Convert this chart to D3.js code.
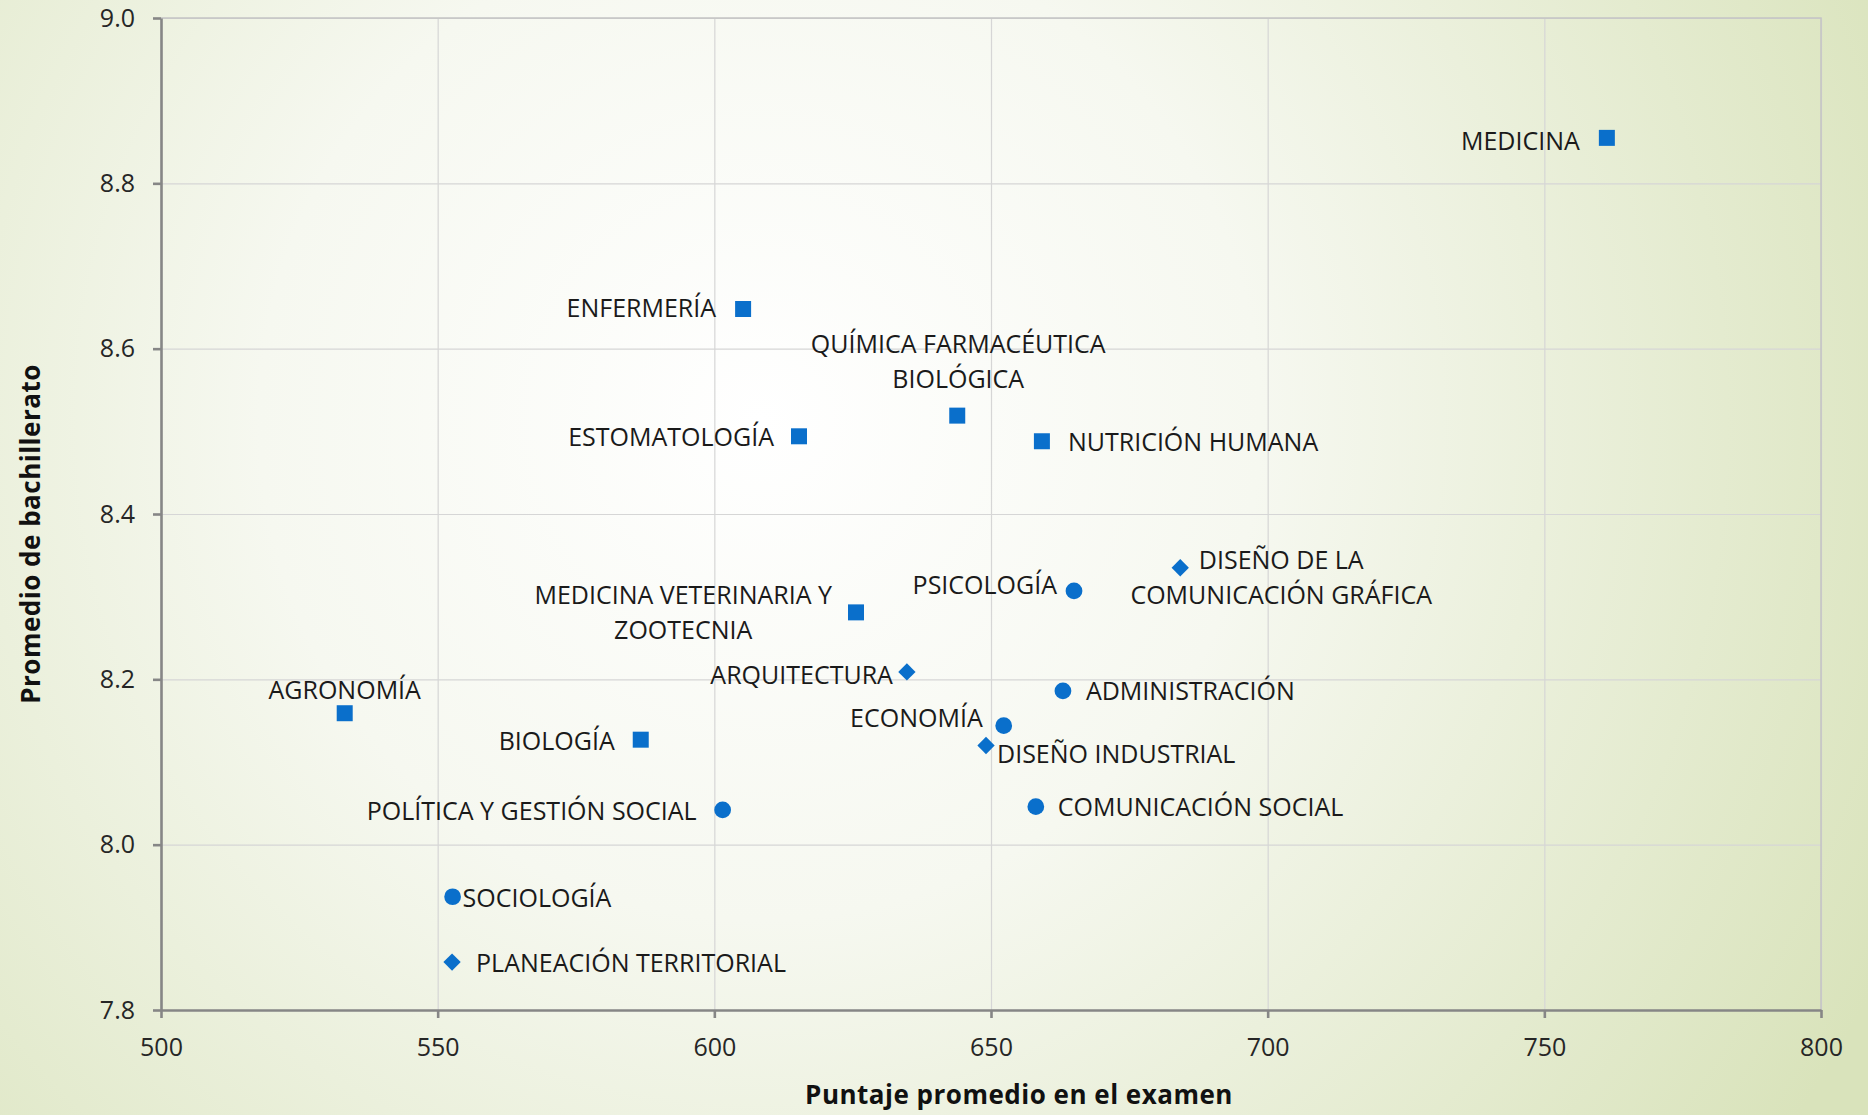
<!DOCTYPE html>
<html>
<head>
<meta charset="utf-8">
<script src="https://cdn.jsdelivr.net/npm/d3@7"></script>
<style>
  body { margin: 0; overflow: hidden; }
  text { font-family: "Open Sans", sans-serif; }
</style>
</head>
<body>
<svg id="chart"></svg>
<script>
// Carreras del área de salud (cuadrados)
const saludNombres = ["MEDICINA", "ENFERMERÍA", "QUÍMICA FARMACÉUTICA BIOLÓGICA", "ESTOMATOLOGÍA",
  "NUTRICIÓN HUMANA", "MEDICINA VETERINARIA Y ZOOTECNIA", "AGRONOMÍA", "BIOLOGÍA"];
const saludPuntaje = [761.3, 605.2, 643.9, 615.3, 659.2, 625.6, 533.2, 586.7];
const saludPromedio = [8.855, 8.648, 8.519, 8.494, 8.488, 8.281, 8.159, 8.127];

// Ciencias sociales (círculos)
const socialesNombres = ["PSICOLOGÍA", "ADMINISTRACIÓN", "ECONOMÍA", "POLÍTICA Y GESTIÓN SOCIAL",
  "COMUNICACIÓN SOCIAL", "SOCIOLOGÍA"];
const socialesPuntaje = [665.0, 663.0, 652.3, 601.5, 658.1, 552.7];
const socialesPromedio = [8.307, 8.186, 8.144, 8.042, 8.046, 7.937];

// Diseño y artes (rombos)
const disenoNombres = ["DISEÑO DE LA COMUNICACIÓN GRÁFICA", "ARQUITECTURA", "DISEÑO INDUSTRIAL",
  "PLANEACIÓN TERRITORIAL"];
const disenoPuntaje = [684.2, 634.8, 649.1, 552.6];
const disenoPromedio = [8.335, 8.209, 8.120, 7.858];

const xTicks = [500, 550, 600, 650, 700, 750, 800];
const yTicks = [7.8, 8.0, 8.2, 8.4, 8.6, 8.8, 9.0];

// Ubicación de las etiquetas (lado, separación, desplazamiento vertical, líneas)
const etiquetas = {
  "MEDICINA": { pos: "left", gap: 27, dy: 12 },
  "ENFERMERÍA": { pos: "left", gap: 27, dy: 8 },
  "QUÍMICA FARMACÉUTICA BIOLÓGICA": { pos: "middle", dx: 1, dy: -63, lines: ["QUÍMICA FARMACÉUTICA", "BIOLÓGICA"] },
  "ESTOMATOLOGÍA": { pos: "left", gap: 25, dy: 10 },
  "NUTRICIÓN HUMANA": { pos: "right", gap: 26, dy: 10 },
  "MEDICINA VETERINARIA Y ZOOTECNIA": { pos: "left", gap: 24, dy: -8, lines: ["MEDICINA VETERINARIA Y", "ZOOTECNIA"] },
  "AGRONOMÍA": { pos: "middle", dx: 0, dy: -14 },
  "BIOLOGÍA": { pos: "left", gap: 26, dy: 10 },
  "PSICOLOGÍA": { pos: "left", gap: 17, dy: 3 },
  "ADMINISTRACIÓN": { pos: "right", gap: 23, dy: 9 },
  "ECONOMÍA": { pos: "left", gap: 21, dy: 1 },
  "POLÍTICA Y GESTIÓN SOCIAL": { pos: "left", gap: 26, dy: 10 },
  "COMUNICACIÓN SOCIAL": { pos: "right", gap: 22, dy: 9 },
  "SOCIOLOGÍA": { pos: "right", gap: 10, dy: 10 },
  "DISEÑO DE LA COMUNICACIÓN GRÁFICA": { pos: "middle", dx: 101, dy: 1, lines: ["DISEÑO DE LA", "COMUNICACIÓN GRÁFICA"] },
  "ARQUITECTURA": { pos: "left", gap: 14, dy: 12 },
  "DISEÑO INDUSTRIAL": { pos: "right", gap: 11, dy: 18 },
  "PLANEACIÓN TERRITORIAL": { pos: "right", gap: 24, dy: 10 }
};

const svgWidth = 1868;
const svgHeight = 1115;
const margin = { top: 18, right: 47, bottom: 105, left: 161 };
const width = svgWidth - margin.left - margin.right;
const height = svgHeight - margin.top - margin.bottom;
const azul = "#0a6fcb";
const lineHeight = 35;

const svg = d3.select("#chart")
  .attr("width", svgWidth)
  .attr("height", svgHeight);

// Fondo con degradado radial
const grad = svg.append("defs").append("radialGradient")
  .attr("id", "fondo")
  .attr("gradientUnits", "userSpaceOnUse")
  .attr("cx", 760).attr("cy", 420).attr("r", 1250);
grad.append("stop").attr("offset", "0%").attr("stop-color", "#ffffff");
grad.append("stop").attr("offset", "40%").attr("stop-color", "#f6f8f0");
grad.append("stop").attr("offset", "100%").attr("stop-color", "#d9e3bb");

svg.append("rect")
  .attr("width", svgWidth)
  .attr("height", svgHeight)
  .attr("fill", "url(#fondo)");

const g = svg.append("g")
  .attr("transform", `translate(${margin.left}, ${margin.top})`);

const xScale = d3.scaleLinear().domain([500, 800]).range([0, width]);
const yScale = d3.scaleLinear().domain([7.8, 9.0]).range([height, 0]);

// Líneas de cuadrícula
g.append("g")
  .call(d3.axisBottom(xScale).tickValues(xTicks).tickSize(height).tickFormat(""))
  .call(s => s.select(".domain").remove())
  .call(s => s.selectAll("line").attr("stroke", "#d6d6d6").attr("stroke-width", 1.2));

g.append("g")
  .call(d3.axisLeft(yScale).tickValues(yTicks).tickSize(-width).tickFormat(""))
  .call(s => s.select(".domain").remove())
  .call(s => s.selectAll("line").attr("stroke", "#d6d6d6").attr("stroke-width", 1.2));

// Borde superior y derecho del área de trazado
g.append("path")
  .attr("d", `M0,0H${width}V${height}`)
  .attr("fill", "none")
  .attr("stroke", "#c4c4c4")
  .attr("stroke-width", 1.5);

// Eje X
const xAxis = g.append("g")
  .attr("transform", `translate(0, ${height})`)
  .call(d3.axisBottom(xScale).tickValues(xTicks).tickSize(8).tickSizeOuter(0).tickPadding(20).tickFormat(d3.format("d")));

// Eje Y
const yAxis = g.append("g")
  .call(d3.axisLeft(yScale).tickValues(yTicks).tickSize(8).tickSizeOuter(0).tickPadding(18).tickFormat(d3.format(".1f")));

[xAxis, yAxis].forEach(ax => {
  ax.select(".domain").attr("stroke", "#868686").attr("stroke-width", 2.6);
  ax.selectAll(".tick line").attr("stroke", "#868686").attr("stroke-width", 2.6);
  ax.selectAll(".tick text")
    .attr("fill", "#262626")
    .style("font-size", "25px")
    .style("font-family", "'Open Sans', sans-serif");
});

// Series
const series = [
  { nombres: saludNombres, xs: saludPuntaje, ys: saludPromedio, forma: "cuadrado" },
  { nombres: socialesNombres, xs: socialesPuntaje, ys: socialesPromedio, forma: "circulo" },
  { nombres: disenoNombres, xs: disenoPuntaje, ys: disenoPromedio, forma: "rombo" }
];

const simbolos = {
  cuadrado: d3.symbol().type(d3.symbolSquare).size(256),
  circulo: d3.symbol().type(d3.symbolCircle).size(220),
  rombo: d3.symbol().type(d3.symbolSquare).size(150)
};

series.forEach(serie => {
  const puntos = serie.nombres.map((n, i) => ({ nombre: n, x: serie.xs[i], y: serie.ys[i] }));

  g.selectAll(null)
    .data(puntos)
    .enter()
    .append("path")
    .attr("d", simbolos[serie.forma])
    .attr("transform", d => `translate(${xScale(d.x)}, ${yScale(d.y)})` + (serie.forma === "rombo" ? " rotate(45)" : ""))
    .attr("fill", azul);

  // Etiquetas de datos
  puntos.forEach(d => {
    const cfg = etiquetas[d.nombre];
    const lines = cfg.lines || [d.nombre];
    const px = xScale(d.x);
    const py = yScale(d.y);
    const t = g.append("text")
      .attr("fill", "#1a1a1a")
      .style("font-size", "25px");
    const spans = lines.map((ln, i) => t.append("tspan")
      .attr("y", py + cfg.dy + i * lineHeight)
      .text(ln));
    if (cfg.pos === "middle") {
      t.attr("text-anchor", "middle");
      spans.forEach(s => s.attr("x", px + cfg.dx));
    } else {
      const w = d3.max(spans, s => s.node().getComputedTextLength());
      const cx = cfg.pos === "left" ? px - cfg.gap - w / 2 : px + cfg.gap + w / 2;
      t.attr("text-anchor", "middle");
      spans.forEach(s => s.attr("x", cx));
    }
  });
});

// Títulos de los ejes
svg.append("text")
  .attr("text-anchor", "middle")
  .attr("x", 1019)
  .attr("y", 1104)
  .attr("fill", "#111")
  .style("font-size", "26px")
  .style("font-weight", "bold")
  .style("letter-spacing", "0.5px")
  .text("Puntaje promedio en el examen");

svg.append("text")
  .attr("text-anchor", "middle")
  .attr("transform", "translate(40, 534) rotate(-90)")
  .attr("fill", "#111")
  .style("font-size", "26px")
  .style("font-weight", "bold")
  .style("letter-spacing", "0.5px")
  .text("Promedio de bachillerato");
</script>
</body>
</html>
